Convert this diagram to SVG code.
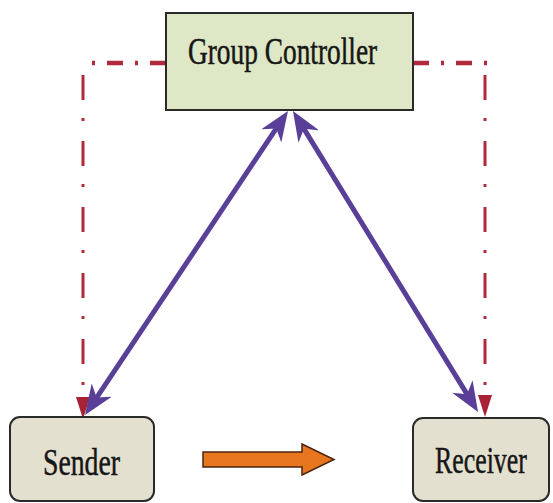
<svg xmlns="http://www.w3.org/2000/svg" width="553" height="503" viewBox="0 0 553 503">
<style>
  .lbl { font-family: "Liberation Serif", "Times New Roman", serif; font-size: 38px; fill: #161616; stroke: #161616; stroke-width: 0.5; }
  .ctrl { fill: #dee8c6; stroke: #2a2a2a; stroke-width: 2; }
  .end { fill: #e4e0d0; stroke: #2a2a2a; stroke-width: 2; }
  .msg { fill: none; stroke: #5a3f98; stroke-width: 5; }
  .ctlh { fill: none; stroke: #b02a3c; stroke-width: 4.5; stroke-dasharray: 16 12 3 12; }
  .ctlv { fill: none; stroke: #b02a3c; stroke-width: 3; stroke-dasharray: 25 18 3 20; }
  .data { fill: #e8761f; stroke: #4a2410; stroke-width: 1.5; }
</style>
<defs>
  <marker id="purpleHead" markerUnits="userSpaceOnUse" viewBox="0 0 30 24" refX="16" refY="12" markerWidth="30" markerHeight="24" orient="auto-start-reverse">
    <path d="M0,0 L30,12 L0,24 L9,12 Z" fill="#5a3f98"/>
  </marker>
  <marker id="redHead" markerUnits="userSpaceOnUse" viewBox="0 0 22 14" refX="0" refY="7" markerWidth="22" markerHeight="14" orient="auto">
    <path d="M0,0 L22,7 L0,14 Z" fill="#a82235"/>
  </marker>
</defs>

<g id="connectors">
  <path class="ctlh" d="M166,63 H88"/>
  <path class="ctlv" d="M83,75 V397" marker-end="url(#redHead)"/>
  <path class="ctlh" d="M413,63 H487"/>
  <path class="ctlv" d="M485,75 V395" marker-end="url(#redHead)"/>
  <line class="msg" x1="280.2" y1="122.6" x2="92.8" y2="403.4" marker-start="url(#purpleHead)" marker-end="url(#purpleHead)"/>
  <line class="msg" x1="300.3" y1="122.9" x2="470.7" y2="400.1" marker-start="url(#purpleHead)" marker-end="url(#purpleHead)"/>
  <path class="data" d="M203,452 H302 V444 L334,459.5 L302,475 V467 H203 Z"/>
</g>

<g id="group-controller">
  <rect class="ctrl" x="166" y="13" width="247" height="97"/>
  <text class="lbl" transform="translate(188,64) scale(0.72,1)">Group Controller</text>
</g>

<g id="sender">
  <rect class="end" x="10" y="417" width="144" height="84" rx="10"/>
  <text class="lbl" transform="translate(43,475) scale(0.73,1)">Sender</text>
</g>

<g id="receiver">
  <rect class="end" x="413" y="418" width="136" height="83" rx="10"/>
  <text class="lbl" transform="translate(435,473) scale(0.68,1)">Receiver</text>
</g>
</svg>
